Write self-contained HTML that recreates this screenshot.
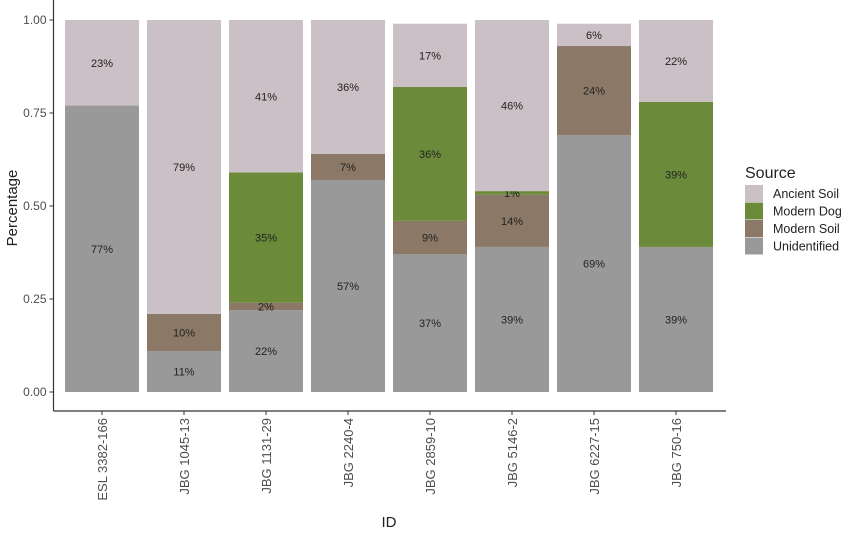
<!DOCTYPE html>
<html><head><meta charset="utf-8"><style>
body{margin:0;background:#fff;font-family:"Liberation Sans",Arial,sans-serif}
</style></head><body>
<svg id="chart" width="850" height="530" xmlns="http://www.w3.org/2000/svg" font-family="Liberation Sans, Arial, sans-serif">
<g id="plot"></g>
<g id="legend">
<text x="745" y="178" font-size="16" fill="#222">Source</text>
</g>
</svg>
<script>
const categories=["ESL 3382-166","JBG 1045-13","JBG 1131-29","JBG 2240-4","JBG 2859-10","JBG 5146-2","JBG 6227-15","JBG 750-16"];
const unidentified=[0.77,0.11,0.22,0.57,0.37,0.39,0.69,0.39];
const modernSoil=[0,0.10,0.02,0.07,0.09,0.14,0.24,0];
const modernDog=[0,0,0.35,0,0.36,0.01,0,0.39];
const ancientSoil=[0.23,0.79,0.41,0.36,0.17,0.46,0.06,0.22];
const yTicks=[0,0.25,0.5,0.75,1];
const yTickLabels=["0.00","0.25","0.50","0.75","1.00"];
const seriesNames=["Ancient Soil","Modern Dog","Modern Soil","Unidentified"];

const NS="http://www.w3.org/2000/svg";
const plot=document.getElementById('plot'), legend=document.getElementById('legend');
const x0=53.5,xEnd=726,yTop=20,yZero=392,axisY=411;
const step=82,firstC=102,bw=74;
const xC=i=>firstC+i*step;
const yS=v=>yZero-v*(yZero-yTop);
function mk(tag,attrs,parent){const e=document.createElementNS(NS,tag);for(const k in attrs)e.setAttribute(k,attrs[k]);parent.appendChild(e);return e;}
const stack=[["unidentified",unidentified,"#999999"],["modern-soil",modernSoil,"#8b7866"],["modern-dog",modernDog,"#6b8a3a"],["ancient-soil",ancientSoil,"#cbc0c5"]];
categories.forEach((c,i)=>{
  let base=0;
  stack.forEach(([nm,arr,col])=>{
    const v=arr[i];
    if(v>0){
      const r=mk('rect',{x:xC(i)-bw/2,y:yS(base+v),width:bw,height:yS(base)-yS(base+v),fill:col},plot);
      
      
      const t=mk('text',{x:xC(i),y:yS(base+v/2)+4,'font-size':11,'text-anchor':'middle',fill:'#222'},plot);
      
      
      t.textContent=Math.round(v*100)+'%';
    }
    base+=v;
  });
  const tk=mk('line',{x1:xC(i),x2:xC(i),y1:axisY,y2:axisY+4,stroke:'#333'},plot);
  
  
  const xl=mk('text',{transform:`translate(${xC(i)+5},418) rotate(-90)`,'font-size':13,'text-anchor':'end',fill:'#4d4d4d'},plot);
  
  
  xl.textContent=c;
});
yTicks.forEach((v,i)=>{
  const tk=mk('line',{x1:x0-4,x2:x0,y1:yS(v),y2:yS(v),stroke:'#333'},plot);
  
  
  const t=mk('text',{x:x0-7,y:yS(v)+4,'font-size':12,'text-anchor':'end',fill:'#4d4d4d'},plot);
  
  
  t.textContent=yTickLabels[i];
});
const ya=mk('line',{x1:x0,x2:x0,y1:0,y2:axisY,stroke:'#333','stroke-width':1.2},plot);


const xa=mk('line',{x1:x0,x2:xEnd,y1:axisY,y2:axisY,stroke:'#333','stroke-width':1.2},plot);


const yt=mk('text',{transform:'translate(17,208) rotate(-90)','font-size':15,'text-anchor':'middle',fill:'#222'},plot);


yt.textContent='Percentage';
const xt=mk('text',{x:389,y:527,'font-size':15,'text-anchor':'middle',fill:'#222'},plot);


xt.textContent='ID';
const legCols=["#cbc0c5","#6b8a3a","#8b7866","#999999"];
seriesNames.forEach((n,i)=>{
  const y=185+i*17.5;
  const r=mk('rect',{x:745,y:y,width:18,height:17,fill:legCols[i]},legend);
  
  
  const t=mk('text',{x:773,y:y+13,'font-size':12.5,fill:'#222'},legend);
  
  
  t.textContent=n;
});
</script>
</body></html>
